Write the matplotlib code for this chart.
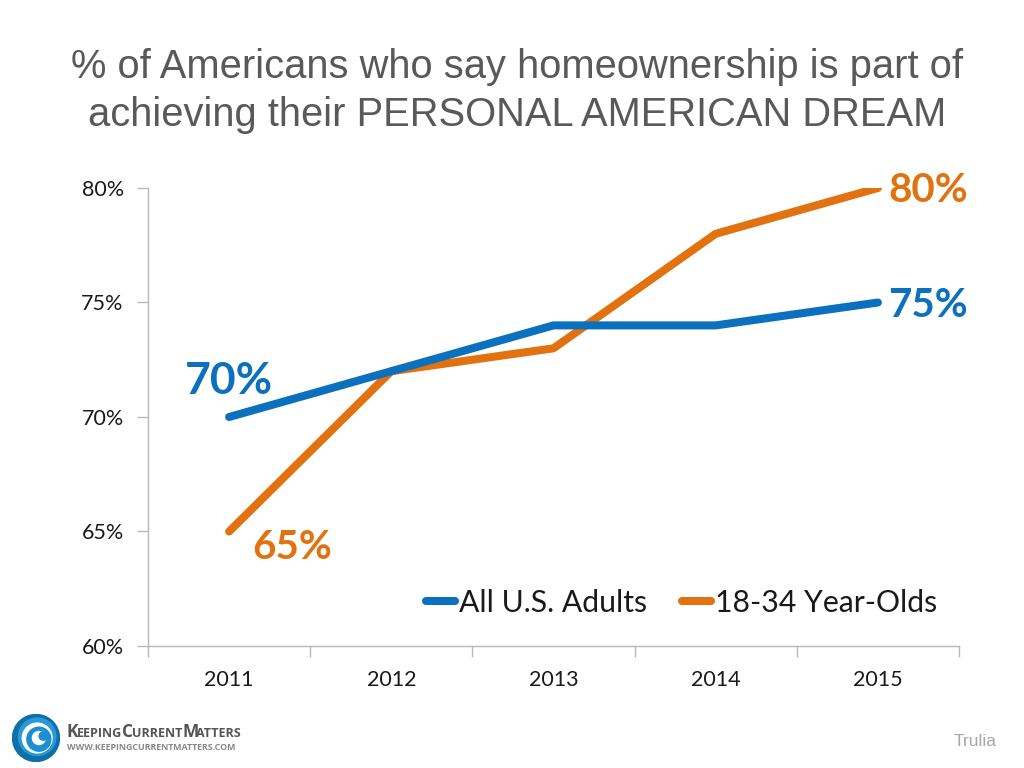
import numpy as np
import matplotlib
matplotlib.use('Agg')
from matplotlib import pyplot as plt
from matplotlib.patches import Circle

years = ['2011', '2012', '2013', '2014', '2015']
all_adults = [70, 72, 74, 74, 75]
young_adults = [65, 72, 73, 78, 80]
y_ticks = [60, 65, 70, 75, 80]

blue = '#0b70bd'
orange = '#e2720f'
grey = '#b8b8b8'

W, H = 1024, 768
fig = plt.figure(figsize=(W/100, H/100), dpi=100, facecolor='white')
ax = fig.add_axes([148/W, 1 - 646/H, 811/W, 458/H])

ax.plot(years, young_adults, color=orange, lw=5.8, solid_capstyle='round',
        solid_joinstyle='round', label='18-34 Year-Olds', zorder=2)
ax.plot(years, all_adults, color=blue, lw=5.8, solid_capstyle='round',
        solid_joinstyle='round', label='All U.S. Adults', zorder=3)
ax.set_xlim(-0.5, 4.5)
ax.set_ylim(60, 80)

ax.set_yticks(y_ticks)
ax.set_yticklabels([f'{v}%' for v in y_ticks])
ax.set_xticks(np.arange(-0.5, 5), minor=True)
ax.tick_params(axis='x', which='major', length=0, pad=17.5)
ax.tick_params(axis='x', which='minor', length=8, width=1, color=grey, direction='out')
ax.tick_params(axis='y', length=8, width=1, color=grey, direction='out', pad=9.5)
for lab in ax.get_xticklabels() + ax.get_yticklabels():
    lab.set_fontfamily('Lato')
    lab.set_fontsize(15.5)
    lab.set_color('#1a1a1a')

for side in ['top', 'right']:
    ax.spines[side].set_visible(False)
for side in ['left', 'bottom']:
    ax.spines[side].set_color(grey)
    ax.spines[side].set_linewidth(1)

# value labels, offset in pixels from the end points
labels = [
    (4, young_adults[4], orange, 10, -3, 29),
    (4, all_adults[4], blue, 10, -3, 29),
    (0, all_adults[0], blue, -44, 36, 32),
    (0, young_adults[0], orange, 23, -16, 29),
]
for xi, val, col, dx, dy, size in labels:
    ax.annotate(f'{val}%', (xi, val), xytext=(dx*0.72, dy*0.72), textcoords='offset points',
                color=col, fontsize=size, fontweight='bold', fontfamily='Lato',
                ha='left', va='center', annotation_clip=False)

handles, names = ax.get_legend_handles_labels()
leg = ax.legend(handles[::-1], names[::-1], loc='lower left', bbox_to_anchor=(0.343, 0.064),
                frameon=False, ncol=2, handlelength=0.95, handletextpad=0.15,
                columnspacing=1.15, borderpad=0, borderaxespad=0,
                prop={'family': 'Lato', 'size': 21.7})
for t in leg.get_texts():
    t.set_color('#1a1a1a')

title = ['% of Americans who say homeownership is part of',
         'achieving their PERSONAL AMERICAN DREAM']
fig.text(517/W, 1 - 67/H, title[0], ha='center', va='center', fontsize=28.7,
         family='Liberation Sans', color='#595959')
fig.text(517/W, 1 - 115/H, title[1], ha='center', va='center', fontsize=28.7,
         family='Liberation Sans', color='#595959')

fig.text(997/W, 1 - 742/H, 'Trulia', ha='right', va='center', fontsize=12.5,
         family='Liberation Sans', color='#a6a6a6')

# logo, small caps built from separate pieces
logo_parts = [(67, 'K', 12.5), (77, 'EEPING', 9), (122, 'C', 12.5), (132, 'URRENT', 9),
              (182, 'M', 12.5), (196, 'ATTERS', 9)]
for px, txt, size in logo_parts:
    fig.text(px/W, 1 - 737/H, txt, ha='left', va='baseline', fontsize=size, fontweight='bold',
             family='Open Sans', color='#555555')
fig.text(67/W, 1 - 747/H, 'WWW.KEEPINGCURRENTMATTERS.COM', ha='left', va='center', fontsize=6.4,
         fontweight='bold', family='Open Sans', color='#888888')

lax = fig.add_axes([12/W, 1 - 762/H, 48/W, 48/H])
lax.set_xlim(-1, 1)
lax.set_ylim(-1, 1)
lax.axis('off')
lax.add_patch(Circle((0, 0), 0.98, color='#0f6fa8'))
lax.add_patch(Circle((0.05, 0.05), 0.78, color='#2a9ad6'))
lax.add_patch(Circle((0.05, 0.0), 0.62, color='#ffffff'))
lax.add_patch(Circle((0.12, -0.05), 0.5, color='#1c8fd0'))
lax.add_patch(Circle((0.12, 0.0), 0.27, color='#ffffff'))
lax.add_patch(Circle((0.3, 0.08), 0.17, color='#1c8fd0'))

fig.savefig('out.png', dpi=100)
